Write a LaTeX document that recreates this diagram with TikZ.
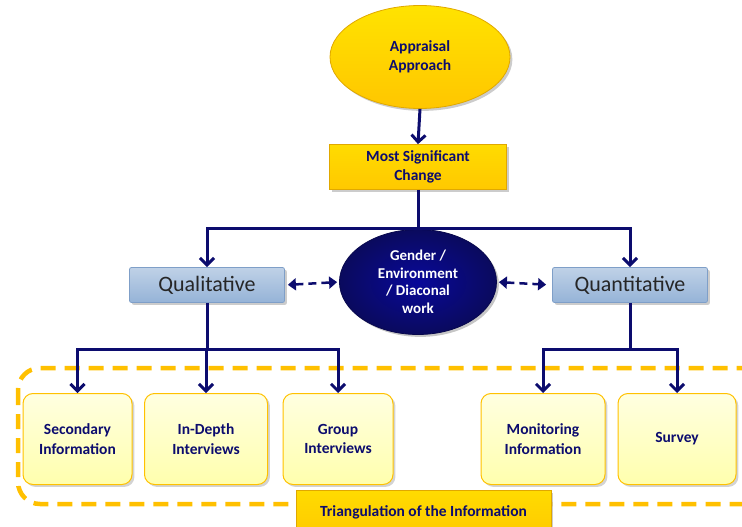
\documentclass[tikz,border=0pt]{standalone}
\usepackage{fontspec}
\setmainfont{Carlito}
\usetikzlibrary{arrows.meta,shadows,shapes.geometric}
\definecolor{navy}{HTML}{0C0C6E}
\definecolor{gold}{HTML}{FFCC00}
\definecolor{golddark}{HTML}{E0A800}
\definecolor{cream}{HTML}{FFFFCC}
\definecolor{lblue}{HTML}{95B3D7}
\definecolor{lbluedark}{HTML}{7F9FC8}
\definecolor{dashy}{HTML}{FFC000}
\begin{document}
\begin{tikzpicture}[x=1pt,y=-1pt,
  lab/.style={font=\bfseries\fontsize{15.5}{19.5}\selectfont, text=navy, align=center},
  goldell/.style={ellipse, draw=golddark, line width=0.8pt, top color=gold!55!yellow, bottom color=gold!92!orange, drop shadow={opacity=0.4}},
  goldbox/.style={rectangle, draw=golddark, line width=0.8pt, top color=gold!70!yellow, bottom color=gold!95!orange, drop shadow={opacity=0.4}},
  bluebox/.style={rectangle, rounded corners=2pt, draw=lbluedark, line width=0.8pt, top color=lblue!60!white, bottom color=lblue, drop shadow={opacity=0.4}, minimum width=155pt, minimum height=35pt, font=\fontsize{22}{24}\selectfont, text=black!85},
  creambox/.style={rectangle, rounded corners=10pt, draw=gold!85!orange, line width=1pt, top color=cream!60!white, bottom color=cream!85!yellow, drop shadow={opacity=0.35}, minimum height=91pt, lab},
  navyell/.style={ellipse, draw=navy!70!black, line width=0.8pt, inner color=navy!70!blue, outer color=navy!85!black, drop shadow={opacity=0.45}, minimum width=157pt, minimum height=105pt, font=\bfseries\fontsize{15}{17.5}\selectfont, text=white, align=center},
  conn/.style={draw=navy, line width=3pt},
  arr/.style={conn, -{Straight Barb[length=7pt,width=14pt,line width=3pt]}},
  darr/.style={draw=navy, line width=2.5pt, dash pattern=on 8pt off 5pt, {Triangle[length=8pt,width=12pt]}-{Triangle[length=8pt,width=12pt]}}
]
\clip (0,0) rectangle (742,527);
\useasboundingbox (0,0) rectangle (742,527);

% dashed frame
\draw[dashy, line width=4.5pt, dash pattern=on 15pt off 9pt, rounded corners=22pt] (18,368) rectangle (790,504);

% nodes
\node[goldell, minimum width=180pt, minimum height=103pt, lab] (appr) at (420,57) {Appraisal\\Approach};
\node[goldbox, minimum width=177pt, minimum height=45pt, lab] (msc) at (418,167) {Most Significant\\Change};
\node[bluebox] (qual) at (207,285) {Qualitative};
\node[bluebox] (quan) at (630,285) {Quantitative};
\node[navyell] (gend) at (418,282) {Gender /\\Environment\\/ Diaconal\\work};

\node[creambox, minimum width=109pt] (sec) at (77.5,439) {Secondary\\Information};
\node[creambox, minimum width=123pt] (ind) at (206,439) {In-Depth\\Interviews};
\node[creambox, minimum width=110pt] (grp) at (338,439) {Group\\Interviews};
\node[creambox, minimum width=124pt] (mon) at (543,439) {Monitoring\\Information};
\node[creambox, minimum width=118pt] (sur) at (677,439) {Survey};

\node[goldbox, minimum width=255pt, minimum height=50pt, anchor=north] (tri) at (423.5,490) {};
\node[lab] (tritxt) at (423.5,512) {Triangulation of the Information};

% connectors
\draw[arr] (appr.south) -- (msc.north);
\coordinate (j1) at (418,228);
\draw[conn] (msc.south) -- (j1);
\draw[arr] (j1) -| (qual.north);
\draw[arr] (j1) -| (quan.north);

\coordinate (j2) at (207,349);
\draw[conn] (qual.south) -- (j2);
\draw[arr] (j2) -| (sec.north);
\draw[arr] (j2) -| (ind.north);
\draw[arr] (j2) -| (grp.north);

\coordinate (j3) at (630,349);
\draw[conn] (quan.south) -- (j3);
\draw[arr] (j3) -| (mon.north);
\draw[arr] (j3) -| (sur.north);

\draw[darr, shorten <=3pt, shorten >=2pt] (qual.east) -- (gend.west);
\draw[darr, shorten <=2pt, shorten >=6pt] (gend.east) -- (quan.west);
\end{tikzpicture}
\end{document}
